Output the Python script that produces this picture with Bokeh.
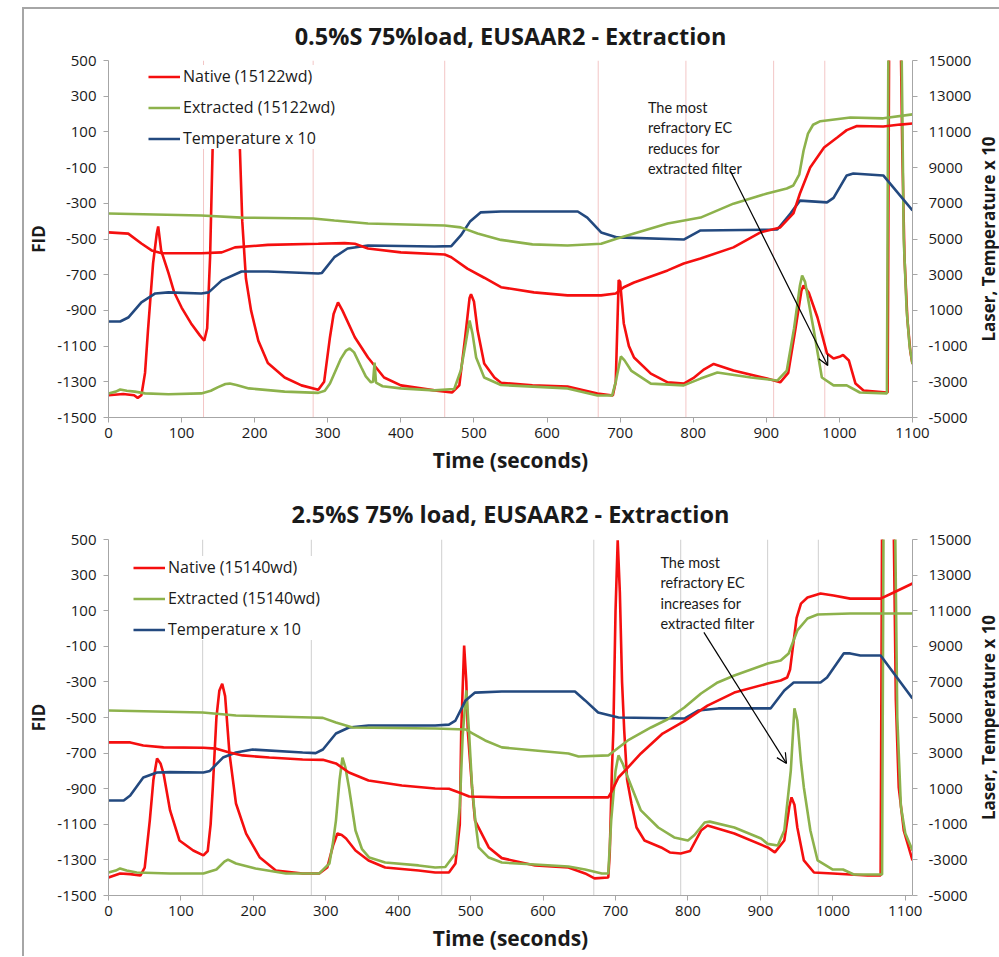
import math
from bokeh.plotting import figure
from bokeh.models import (Range1d, LinearAxis, FixedTicker, Legend, LegendItem,
                          Label, Arrow, OpenHead, PrintfTickFormatter)
from bokeh.layouts import column, row
from bokeh.embed import file_html
from bokeh.resources import INLINE

# ---------------- shared axis data ----------------
event_times = [130, 280, 460, 670, 790, 910, 980]
x_ticks = list(range(0, 1101, 100))
fid_ticks = list(range(-1500, 501, 200))
laser_ticks = list(range(-5000, 15001, 2000))
right_axis_label = "Laser, Temperature x 10"

# ---------------- panel 1 (0.5%S) ----------------
p1_title = "0.5%S 75%load, EUSAAR2 - Extraction"
p1_labels = ["Native (15122wd)", "Extracted (15122wd)", "Temperature x 10"]
p1_note = ["The most", "refractory EC", "reduces for", "extracted filter"]

p1_native_fid_t = [0, 20, 35, 40, 45, 50, 54, 61, 66, 68, 72, 82, 90, 100, 113, 125, 131, 135, 139, 143, 147,
                   175, 179, 183, 188, 195, 205, 218, 241, 264, 287, 295, 303, 308, 314, 320, 337, 355, 377, 400,
                   446, 470, 480, 488, 494, 496, 500, 505, 514, 528, 537, 580, 628, 669, 690, 694, 698, 700, 705,
                   712, 719, 742, 765, 787, 800, 815, 828, 855, 901, 919, 930, 940, 948, 951, 958, 970, 983, 992,
                   1000, 1005, 1013, 1022, 1033, 1065, 1066, 1068, 1084, 1086, 1089, 1093, 1097, 1100]
p1_native_fid = [-1375, -1368, -1375, -1390, -1375, -1250, -1013, -637, -470, -430, -564, -690, -800, -884, -973,
                 -1040, -1070, -1000, -600, 100, 400, 400, 100, -400, -720, -900, -1070, -1195, -1276, -1320,
                 -1345, -1300, -1050, -920, -855, -900, -1050, -1164, -1276, -1320, -1348, -1360, -1320, -1050,
                 -830, -810, -850, -1013, -1198, -1276, -1305, -1320, -1326, -1366, -1377, -1300, -730, -740,
                 -973, -1100, -1164, -1254, -1303, -1310, -1280, -1230, -1200, -1237, -1282, -1303, -1250, -1000,
                 -790, -761, -800, -940, -1141, -1169, -1160, -1150, -1181, -1310, -1349, -1360, -1360, 600, 600,
                 0, -600, -950, -1130, -1200]

p1_extr_fid_t = [0, 10, 16, 25, 36, 50, 82, 127, 140, 150, 160, 166, 175, 192, 241, 287, 296, 303, 309, 318, 325,
                 330, 336, 346, 352, 359, 362, 364, 366, 375, 400, 446, 473, 482, 488, 494, 498, 503, 514, 537,
                 628, 669, 689, 694, 701, 706, 715, 742, 787, 810, 833, 879, 915, 928, 938, 946, 949, 953, 960,
                 965, 976, 992, 1010, 1028, 1065, 1067, 1085, 1088, 1092, 1096, 1100]
p1_extr_fid = [-1365, -1355, -1343, -1350, -1355, -1365, -1370, -1365, -1350, -1330, -1312, -1310, -1318, -1337,
               -1355, -1362, -1350, -1310, -1254, -1170, -1125, -1113, -1135, -1220, -1270, -1303, -1300, -1192,
               -1305, -1325, -1337, -1348, -1340, -1237, -1100, -957, -1030, -1164, -1276, -1318, -1337, -1377,
               -1377, -1300, -1158, -1180, -1237, -1310, -1320, -1282, -1248, -1276, -1293, -1237, -1000, -760,
               -705, -740, -900, -1013, -1276, -1320, -1320, -1360, -1365, 600, 600, -500, -900, -1100, -1200]

p1_native_laser_t = [0, 27, 45, 59, 73, 127, 155, 173, 218, 287, 323, 337, 355, 400, 460, 469, 491, 514, 537, 582,
                     628, 674, 694, 705, 719, 765, 787, 810, 855, 892, 919, 937, 946, 960, 979, 997, 1010, 1024,
                     1060, 1083, 1100]
p1_native_laser = [5370, 5300, 4750, 4360, 4200, 4200, 4250, 4530, 4670, 4730, 4770, 4730, 4470, 4250, 4130, 3980,
                   3340, 2830, 2300, 2010, 1840, 1840, 1950, 2300, 2560, 3240, 3630, 3910, 4530, 5370, 5650, 6430,
                   7550, 9000, 10130, 10690, 11100, 11330, 11300, 11410, 11470]

p1_extr_laser_t = [0, 127, 182, 280, 309, 355, 460, 482, 505, 537, 580, 628, 674, 696, 719, 765, 810, 855, 901,
                   928, 937, 945, 951, 957, 964, 974, 1015, 1060, 1100]
p1_extr_laser = [6430, 6320, 6200, 6150, 6040, 5870, 5760, 5650, 5310, 4950, 4700, 4640, 4730, 5030, 5310, 5870,
                 6200, 6980, 7550, 7830, 8000, 8600, 9960, 10900, 11400, 11600, 11810, 11760, 11980]

p1_temp_t = [0, 16, 27, 45, 64, 82, 127, 137, 155, 182, 218, 287, 292, 309, 327, 355, 446, 469, 482, 495, 509, 537,
             642, 655, 674, 696, 787, 810, 915, 933, 946, 983, 992, 1010, 1019, 1060, 1100]
p1_temp = [380, 380, 600, 1450, 1950, 2010, 1950, 2010, 2680, 3180, 3180, 3070, 3100, 3980, 4470, 4640, 4580, 4600,
           5200, 6000, 6490, 6540, 6540, 6200, 5370, 5090, 4970, 5480, 5530, 6430, 7150, 7050, 7300, 8560, 8670,
           8560, 6600]

# ---------------- panel 2 (2.5%S) ----------------
p2_title = "2.5%S 75% load, EUSAAR2 - Extraction"
p2_labels = ["Native (15140wd)", "Extracted (15140wd)", "Temperature x 10"]
p2_note = ["The most", "refractory EC", "increases for", "extracted filter"]

p2_native_fid_t = [0, 16, 30, 44, 50, 57, 62, 67, 72, 76, 85, 98, 117, 131, 137, 141, 144, 149, 153, 157, 161, 167,
                   176, 190, 209, 231, 268, 291, 302, 310, 316, 322, 328, 341, 359, 382, 428, 451, 470, 479, 485,
                   487, 491, 494, 496, 502, 506, 525, 543, 589, 635, 658, 671, 690, 692, 695, 697, 700, 703, 706,
                   709, 712, 716, 722, 729, 740, 763, 775, 790, 803, 818, 827, 864, 910, 920, 933, 940, 943, 947,
                   951, 960, 974, 1000, 1048, 1066, 1068, 1084, 1087, 1091, 1098, 1110]
p2_native_fid = [-1399, -1376, -1380, -1388, -1343, -1079, -850, -730, -760, -815, -1022, -1191, -1247, -1275,
                 -1250, -1100, -893, -500, -350, -310, -380, -702, -983, -1152, -1287, -1360, -1376, -1376, -1343,
                 -1220, -1152, -1160, -1180, -1247, -1303, -1343, -1360, -1371, -1371, -1320, -1100, -573, -96,
                 -300, -573, -900, -1079, -1230, -1290, -1331, -1343, -1376, -1404, -1399, -1264, -800, -573, 100,
                 495, 200, -300, -573, -850, -983, -1118, -1191, -1230, -1258, -1264, -1250, -1135, -1107, -1152,
                 -1230, -1258, -1191, -1000, -949, -990, -1118, -1303, -1371, -1376, -1388, -1388, 600, 600, -400,
                 -893, -1135, -1303]

p2_extr_fid_t = [0, 10, 16, 25, 39, 85, 131, 149, 160, 165, 176, 203, 245, 291, 305, 310, 314, 319, 323, 327, 332,
                 341, 350, 360, 382, 428, 451, 465, 479, 485, 489, 494, 498, 502, 507, 511, 525, 543, 589, 635, 658,
                 681, 690, 694, 700, 704, 710, 717, 735, 759, 781, 800, 809, 823, 830, 864, 901, 910, 924, 933, 942,
                 947, 951, 956, 960, 969, 979, 1000, 1014, 1029, 1068, 1070, 1086, 1089, 1094, 1100, 1110]
p2_extr_fid = [-1371, -1360, -1348, -1360, -1371, -1376, -1376, -1354, -1310, -1298, -1320, -1348, -1376, -1376,
               -1320, -1200, -1079, -850, -725, -780, -893, -1135, -1240, -1287, -1315, -1331, -1343, -1340, -1264,
               -1000, -600, -348, -600, -893, -1100, -1230, -1287, -1315, -1326, -1337, -1354, -1376, -1376, -1079,
               -800, -713, -760, -837, -1022, -1118, -1174, -1191, -1160, -1090, -1085, -1118, -1180, -1210, -1219,
               -1135, -798, -449, -517, -750, -893, -1135, -1303, -1354, -1354, -1382, -1382, 600, 600, -500, -1000,
               -1150, -1247]

p2_native_laser_t = [0, 30, 48, 76, 131, 149, 167, 185, 222, 268, 296, 314, 332, 359, 405, 451, 470, 484, 498, 543,
                     690, 694, 704, 717, 735, 765, 795, 827, 864, 910, 928, 937, 941, 945, 950, 956, 965, 983, 1001,
                     1024, 1066, 1084, 1110]
p2_native_laser = [3600, 3600, 3430, 3320, 3300, 3250, 3030, 2870, 2750, 2640, 2620, 2420, 1910, 1460, 1180, 1010,
                   1000, 790, 560, 510, 510, 790, 1630, 2190, 2980, 4100, 4800, 5670, 6400, 6910, 7080, 7250, 7700,
                   9000, 10600, 11400, 11740, 11970, 11850, 11680, 11680, 12020, 12530]

p2_extr_laser_t = [0, 130, 176, 280, 296, 314, 337, 451, 493, 503, 520, 543, 589, 635, 649, 690, 699, 717, 749, 772,
                   795, 818, 841, 864, 910, 928, 939, 951, 965, 979, 1024, 1110]
p2_extr_laser = [5390, 5280, 5110, 5000, 4980, 4720, 4440, 4380, 4330, 4100, 3710, 3320, 3150, 2980, 2810, 2870,
                 3150, 3710, 4440, 4900, 5560, 6350, 6970, 7360, 8030, 8200, 8600, 9890, 10560, 10790, 10840, 10840]

p2_temp_t = [0, 21, 30, 48, 67, 85, 131, 140, 158, 176, 199, 268, 286, 296, 314, 332, 359, 451, 470, 479, 493, 506,
             543, 644, 658, 676, 704, 795, 814, 842, 914, 933, 946, 983, 992, 1015, 1024, 1038, 1066, 1110]
p2_temp = [340, 340, 620, 1630, 1910, 1930, 1910, 2000, 2750, 3030, 3200, 3030, 3000, 3200, 4100, 4440, 4550, 4550,
           4600, 4830, 5960, 6400, 6460, 6460, 5960, 5280, 5000, 4940, 5390, 5510, 5510, 6520, 6970, 6970, 7250,
           8600, 8600, 8480, 8480, 6070]

RED = "#F50F0F"
GREEN = "#8DB24C"
BLUE = "#23497F"
FONT = "Open Sans"
NOTE_FONT = "Lato"
TXT = "#1A1A1A"
AX = "#A6A6A6"

MAIN_W = 953
SIDE_W = 22


def make_panel(title, labels, note, xmax, vcolor, series, legend_xy, note_xy, note_step, arrow,
               height, mb_top, mb_bottom, mb_left, title_standoff):
    (nf_t, nf, ef_t, ef, nl_t, nl, el_t, el, tt, tv) = series
    p = figure(width=MAIN_W, height=height, x_range=Range1d(0, xmax), y_range=Range1d(-1500, 500),
               output_backend="svg", toolbar_location=None,
               min_border_left=mb_left, min_border_right=MAIN_W - 888, min_border_top=mb_top,
               min_border_bottom=mb_bottom)
    p.extra_y_ranges = {"laser": Range1d(-5000, 15000)}
    p.outline_line_color = None
    p.xgrid.visible = False
    p.ygrid.visible = False
    p.background_fill_color = "white"
    p.border_fill_color = "white"

    p.title.text = title
    p.title.text_font = FONT
    p.title.text_font_style = "bold"
    p.title.text_font_size = "23.5px"
    p.title.text_color = TXT
    p.title.align = "center"
    p.title.standoff = title_standoff

    # event marker lines
    p.segment(x0=event_times, y0=[-1500] * len(event_times), x1=event_times, y1=[500] * len(event_times),
              line_color=vcolor, line_width=1)

    r_nf = p.line(nf_t, nf, line_color=RED, line_width=2.6)
    r_ef = p.line(ef_t, ef, line_color=GREEN, line_width=2.6)
    r_t = p.line(tt, tv, line_color=BLUE, line_width=2.6, y_range_name="laser")
    p.line(nl_t, nl, line_color=RED, line_width=2.6, y_range_name="laser")
    p.line(el_t, el, line_color=GREEN, line_width=2.6, y_range_name="laser")

    # axes
    xa = p.xaxis[0]
    xa.ticker = FixedTicker(ticks=x_ticks)
    xa.axis_label = "Time (seconds)"
    ya = p.yaxis[0]
    ya.ticker = FixedTicker(ticks=fid_ticks)
    ya.axis_label = "FID"
    ra = LinearAxis(y_range_name="laser", ticker=FixedTicker(ticks=laser_ticks))
    p.add_layout(ra, "right")
    for a in (xa, ya, ra):
        a.formatter = PrintfTickFormatter(format="%d")
        a.axis_line_color = AX
        a.major_tick_line_color = AX
        a.major_tick_out = 5
        a.major_tick_in = 0
        a.minor_tick_line_color = None
        a.major_label_text_font = FONT
        a.major_label_text_font_size = "15px"
        a.major_label_text_color = TXT
        a.axis_label_text_font = FONT
        a.axis_label_text_font_style = "bold"
        a.axis_label_text_color = TXT
        a.axis_label_standoff = 4
    xa.axis_label_text_font_size = "21px"
    xa.axis_label_standoff = 5
    xa.major_label_standoff = 5
    ya.axis_label_text_font_size = "17px"
    ya.major_label_standoff = 7
    ra.major_label_standoff = 11

    legend = Legend(items=[LegendItem(label=labels[0], renderers=[r_nf]),
                           LegendItem(label=labels[1], renderers=[r_ef]),
                           LegendItem(label=labels[2], renderers=[r_t])],
                    location=legend_xy, level="overlay")
    legend.background_fill_color = "white"
    legend.background_fill_alpha = 1.0
    legend.border_line_color = None
    legend.label_text_font = FONT
    legend.label_text_font_size = "16px"
    legend.label_text_color = TXT
    legend.glyph_width = 32
    legend.glyph_height = 21
    legend.label_height = 21
    legend.spacing = 9
    legend.padding = 9
    legend.margin = 0
    legend.label_standoff = 3
    p.add_layout(legend)

    nx, ny = note_xy
    for i, line in enumerate(note):
        p.add_layout(Label(x=nx, y=ny + i * note_step, text=line, text_font=NOTE_FONT, text_font_size="14.5px",
                           text_color=TXT, text_baseline="middle"))
    (xs, ys, xe, ye) = arrow
    p.add_layout(Arrow(end=OpenHead(size=10, line_color="black", line_width=1.2),
                       x_start=xs, y_start=ys, x_end=xe, y_end=ye, line_color="black", line_width=1.2))

    # narrow strip on the right holding the right-axis title (reads bottom-to-top)
    s = figure(width=SIDE_W, height=height, x_range=Range1d(0, 1), y_range=p.y_range,
               output_backend="svg", toolbar_location=None,
               min_border_left=0, min_border_right=0, min_border_top=mb_top, min_border_bottom=mb_bottom)
    s.xaxis.visible = False
    s.yaxis.visible = False
    s.xgrid.visible = False
    s.ygrid.visible = False
    s.outline_line_color = None
    s.background_fill_color = "white"
    s.border_fill_color = "white"
    s.add_layout(Label(x=0.5, y=-500, text=right_axis_label, angle=math.pi / 2,
                       text_font=FONT, text_font_style="bold", text_font_size="17px", text_color=TXT,
                       text_align="center", text_baseline="middle"))
    return row(p, s)


p1 = make_panel(p1_title, p1_labels, p1_note, 1100, "#F3C6C6",
                (p1_native_fid_t, p1_native_fid, p1_extr_fid_t, p1_extr_fid,
                 p1_native_laser_t, p1_native_laser, p1_extr_laser_t, p1_extr_laser, p1_temp_t, p1_temp),
                (40, 268), (738, 237), -114, (851, -120, 984, -1209),
                height=471, mb_top=51, mb_bottom=63, mb_left=83, title_standoff=17)

p2 = make_panel(p2_title, p2_labels, p2_note, 1110, "#CFCFCF",
                (p2_native_fid_t, p2_native_fid, p2_extr_fid_t, p2_extr_fid,
                 p2_native_laser_t, p2_native_laser, p2_extr_laser_t, p2_extr_laser, p2_temp_t, p2_temp),
                (25, 255), (762, 371), -114, (822, -22, 936, -758),
                height=476, mb_top=59, mb_bottom=61, mb_left=81, title_standoff=19)

layout = column(p1, p2, margin=(7, 0, 0, 22),
                styles={"border-top": "2px solid #A6A6A6", "border-left": "2px solid #A6A6A6"})

open("out.html", "w").write(file_html(layout, INLINE))
